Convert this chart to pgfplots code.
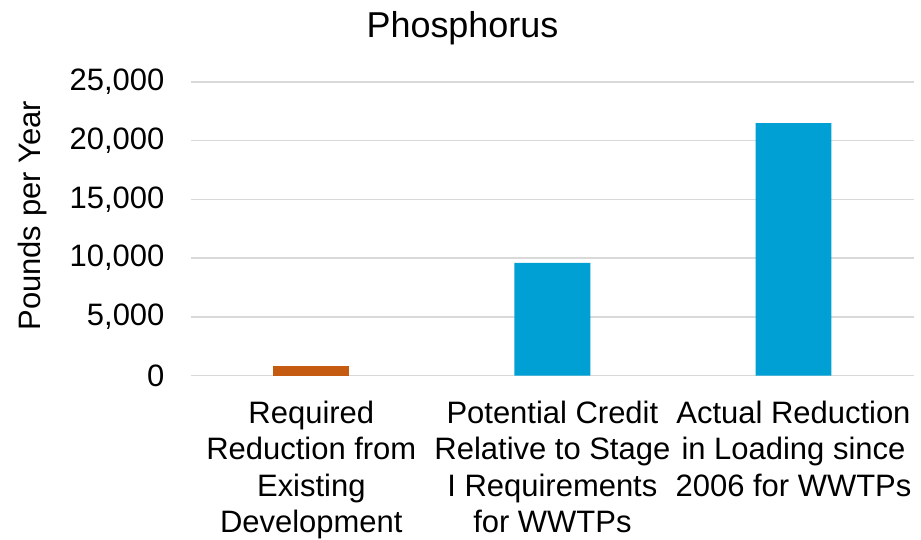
\documentclass[border=0pt]{standalone}
\usepackage{pgfplots}
\pgfplotsset{compat=1.18}
\usepackage{fontspec}
\setmainfont{Liberation Sans}
\definecolor{orangebar}{HTML}{C55A11}
\definecolor{bluebar}{HTML}{009FD4}
\definecolor{gridc}{HTML}{D9D9D9}
\begin{document}
\begin{tikzpicture}
\path[use as bounding box] (-95.5pt,-82pt) rectangle (365.5pt,188pt);
\begin{axis}[
  at={(0pt,0pt)}, anchor=south west,
  scale only axis, width=362pt, height=147pt,
  xmin=-0.5, xmax=2.5, ymin=0, ymax=25000,
  xtick={0,1,2},
  xticklabels={{Required\\Reduction from\\Existing\\Development},{Potential Credit\\Relative to Stage\\I Requirements\\for WWTPs},{Actual Reduction\\in Loading since\\2006 for WWTPs}},
  xticklabel style={align=center, anchor=north, inner sep=0pt, yshift=-12.5pt, font=\fontsize{15.5}{18.25}\selectfont},
  ytick={0,5000,10000,15000,20000,25000},
  yticklabel style={anchor=east, inner sep=0pt, xshift=-13pt, font=\fontsize{15.5}{18}\selectfont},
  /pgf/number format/assume math mode=true,
  /pgf/number format/1000 sep={,},
  scaled y ticks=false,
  ymajorgrids, grid style={gridc, line width=0.8pt},
  axis x line*=bottom, axis y line*=left,
  x axis line style={draw=gridc, line width=0.8pt, -},
  y axis line style={draw=none},
  major tick length=0pt,
  tick style={draw=none},
  ybar, bar width=38pt, bar shift=0pt,
  clip=false,
]
\addplot[fill=orangebar, draw=none] coordinates {(0,800)};
\addplot[fill=bluebar, draw=none] coordinates {(1,9600) (2,21500)};
\end{axis}
\node[font=\fontsize{18}{21}\selectfont] at (136pt,174pt) {Phosphorus};
\node[rotate=90, font=\fontsize{15.5}{18}\selectfont] at (-79pt,80pt) {Pounds per Year};
\end{tikzpicture}
\end{document}
